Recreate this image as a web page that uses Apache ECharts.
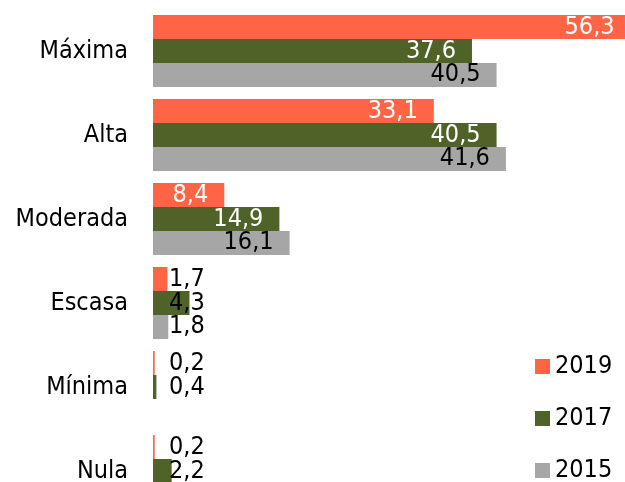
<!DOCTYPE html>
<html>
<head>
<meta charset="utf-8">
<script src="https://cdn.jsdelivr.net/npm/echarts@6/dist/echarts.min.js"></script>
<style>
html,body{margin:0;padding:0;background:#fff;}
#main{width:625px;height:482px;}
</style>
</head>
<body>
<div id="main"></div>
<script>
var categories = ['Máxima', 'Alta', 'Moderada', 'Escasa', 'Mínima', 'Nula'];
var years = ['2019', '2017', '2015'];
var y2019 = [56.3, 33.1, 8.4, 1.7, 0.2, 0.2];
var y2017 = [37.6, 40.5, 14.9, 4.3, 0.4, 2.2];
var y2015 = [40.5, 41.6, 16.1, 1.8, null, null];
var colors = ['#FF6445', '#4F6228', '#A6A6A6'];
var insideColors = ['#fff', '#fff', '#000'];
var FONT = 'DejaVu Sans Condensed';

var myChart = echarts.init(document.getElementById('main'));

function fmt(v){
    return v.toFixed(1).replace('.', ',');
}

// small bars get their label just right of the axis, in black
function buildData(arr){
    var out = [];
    for (var i = 0; i < arr.length; i++) {
        var v = arr[i];
        if (v == null) { out.push(null); continue; }
        if (v < 5) {
            out.push({
                value: v,
                label: {position: [16, '50%'], verticalAlign: 'middle', align: 'left', color: '#000'}
            });
        } else {
            out.push({value: v});
        }
    }
    return out;
}

var allData = [y2019, y2017, y2015];
var series = [];
for (var s = 0; s < years.length; s++) {
    series.push({
        name: years[s],
        type: 'bar',
        barGap: 0,
        barCategoryGap: '14.3%',
        itemStyle: {color: colors[s]},
        label: {
            show: true,
            position: 'insideRight',
            distance: 16,
            color: insideColors[s],
            fontFamily: FONT,
            fontSize: 25,
            formatter: function(p){ return fmt(p.value); }
        },
        data: buildData(allData[s])
    });
}

// one legend per year so the column never wraps at the bottom edge
var legends = [];
for (var k = 0; k < years.length; k++) {
    legends.push({
        orient: 'vertical',
        left: 535,
        top: 354 + k * 52,
        padding: 0,
        itemWidth: 15,
        itemHeight: 15,
        icon: 'rect',
        textStyle: {fontFamily: FONT, fontSize: 25, color: '#000'},
        data: [years[k]]
    });
}

var option = {
    animation: false,
    textStyle: {fontFamily: FONT},
    legend: legends,
    grid: {
        left: 153,
        top: 9,
        right: -37,
        bottom: -31,
        outerBoundsMode: 'none'
    },
    xAxis: {
        type: 'value',
        min: 0,
        max: 60,
        show: false
    },
    yAxis: {
        type: 'category',
        inverse: true,
        data: categories,
        axisLine: {show: false},
        axisTick: {show: false},
        splitLine: {show: false},
        axisLabel: {
            margin: 25,
            color: '#000',
            fontFamily: FONT,
            fontSize: 25
        }
    },
    series: series
};

myChart.setOption(option);
</script>
</body>
</html>
